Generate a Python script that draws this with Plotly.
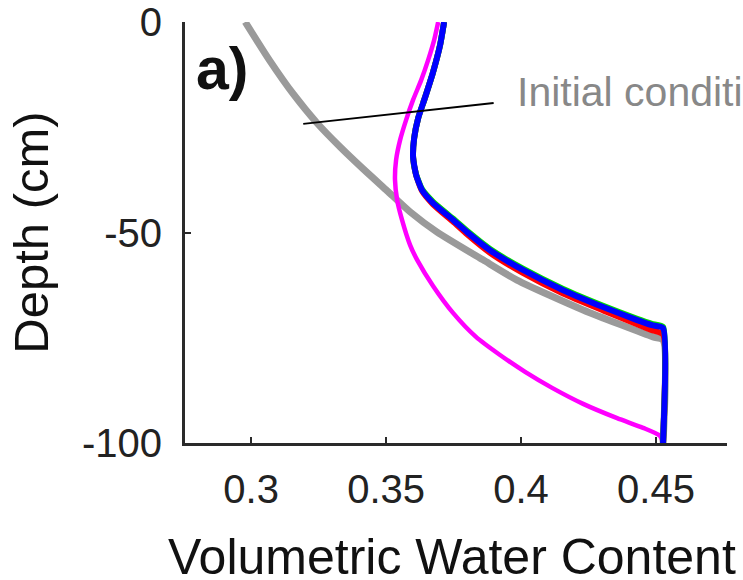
import plotly.graph_objects as go

# ---- data ----
init_x = [0.2978, 0.3067, 0.3156, 0.3244, 0.3330, 0.3415, 0.3504, 0.3589, 0.3689, 0.3859, 0.3985, 0.4230, 0.4489, 0.4526, 0.4526]
init_d = [0.0, -9.0, -17.1, -24.0, -29.7, -34.9, -40.1, -45.1, -49.9, -56.5, -61.3, -68.4, -74.8, -75.5, -100.0]

blue_x = [0.3715, 0.3700, 0.3674, 0.3644, 0.3619, 0.3604, 0.3600, 0.3611, 0.3633, 0.3674, 0.3748, 0.3800, 0.3885, 0.4007, 0.4156, 0.4304, 0.4430, 0.4485, 0.4526, 0.4526]
blue_d = [0.0, -5.5, -11.9, -18.0, -22.8, -27.6, -32.1, -36.3, -39.9, -43.0, -47.0, -49.9, -54.2, -58.9, -63.7, -67.7, -70.8, -72.0, -72.7, -100.0]

red_x = [0.3715, 0.3700, 0.3674, 0.3644, 0.3619, 0.3604, 0.3600, 0.3611, 0.3633, 0.3674, 0.3748, 0.3800, 0.3885, 0.4007, 0.4156, 0.4304, 0.4430, 0.4485, 0.4526, 0.4526]
red_d = [0.0, -5.5, -11.9, -18.0, -22.8, -27.6, -32.1, -36.3, -40.1, -43.3, -47.4, -50.4, -54.8, -59.6, -64.5, -68.5, -71.8, -73.2, -74.2, -100.0]

green_x = [0.3715, 0.3700, 0.3674, 0.3644, 0.3619, 0.3604, 0.3600, 0.3611, 0.3633, 0.3674, 0.3748, 0.3800, 0.3885, 0.4007, 0.4156, 0.4304, 0.4430, 0.4485, 0.4526, 0.4526]
green_d = [0.0, -5.5, -11.9, -18.0, -22.8, -27.6, -32.1, -36.2, -39.7, -42.7, -46.7, -49.6, -53.9, -58.6, -63.4, -67.4, -70.5, -71.7, -72.4, -100.0]

mag_x = [0.3693, 0.3678, 0.3656, 0.3630, 0.3600, 0.3574, 0.3552, 0.3537, 0.3533, 0.3541, 0.3559, 0.3589, 0.3615, 0.3674, 0.3748, 0.3833, 0.3922, 0.4015, 0.4115, 0.4230, 0.4356, 0.4452, 0.4515, 0.4526]
mag_d = [0.0, -4.3, -9.0, -13.8, -18.5, -23.3, -28.0, -32.8, -37.5, -42.3, -47.0, -53.0, -56.5, -62.7, -69.1, -74.8, -79.1, -83.1, -86.9, -90.7, -94.1, -96.4, -98.3, -100.0]

x_ticks = [0.3, 0.35, 0.4, 0.45]
x_ticktext = ["0.3", "0.35", "0.4", "0.45"]
y_ticks = [0, -50, -100]
y_ticktext = ["0", "-50", "-100"]
x_title = "Volumetric Water Content"
y_title = "Depth (cm)"

label_text = "Initial condition"
label_pos = (0.3978, -16.7)
leader_from = (0.3193, -24.2)
leader_to = (0.3904, -19.2)
panel_label = "<b>a)</b>"
panel_pos = (0.2790, -11.2)

fig = go.Figure()
fig.add_trace(go.Scatter(x=init_x, y=init_d, mode="lines", line=dict(color="#9a9a9a", width=7, shape="spline", smoothing=0.6), showlegend=False))
fig.add_trace(go.Scatter(x=mag_x, y=mag_d, mode="lines", line=dict(color="#ff00ff", width=4.5, shape="spline", smoothing=0.6), showlegend=False))
fig.add_trace(go.Scatter(x=red_x, y=red_d, mode="lines", line=dict(color="#ff0000", width=6, shape="spline", smoothing=0.5), showlegend=False))
fig.add_trace(go.Scatter(x=green_x, y=green_d, mode="lines", line=dict(color="#00dd00", width=6, shape="spline", smoothing=0.5), showlegend=False))
fig.add_trace(go.Scatter(x=blue_x, y=blue_d, mode="lines", line=dict(color="#0000ff", width=6, shape="spline", smoothing=0.5), showlegend=False))

font_main = "Liberation Sans, Arial, sans-serif"

fig.add_annotation(x=leader_from[0], y=leader_from[1], ax=leader_to[0], ay=leader_to[1],
                   xref="x", yref="y", axref="x", ayref="y", text="", showarrow=True,
                   arrowhead=0, arrowwidth=2, arrowcolor="#000000")
fig.add_annotation(x=label_pos[0], y=label_pos[1], xref="x", yref="y", text=label_text,
                   showarrow=False, xanchor="left", yanchor="middle",
                   font=dict(family=font_main, size=41, color="#888888"))
fig.add_annotation(x=panel_pos[0], y=panel_pos[1], xref="x", yref="y", text=panel_label,
                   showarrow=False, xanchor="left", yanchor="middle",
                   font=dict(family=font_main, size=59, color="#111111"))
# x-axis title placed below the tick labels
fig.add_annotation(x=0.4926, y=-0.27, xref="paper", yref="paper", text=x_title,
                   showarrow=False, xanchor="center", yanchor="middle",
                   font=dict(family=font_main, size=50, color="#111111"))

axis_common = dict(showgrid=False, zeroline=False, showline=True, linecolor="#2a2a2a", linewidth=3,
                   ticks="inside", ticklen=6, tickwidth=2, tickcolor="#2a2a2a", mirror=False,
                   automargin=False,
                   tickfont=dict(family=font_main, size=40, color="#222222"))

fig.update_xaxes(range=[0.2755, 0.4763], tickvals=x_ticks, ticktext=x_ticktext,
                 ticklabelstandoff=9, **axis_common)
fig.update_yaxes(range=[-100, 0], tickvals=y_ticks, ticktext=y_ticktext,
                 title=dict(text=y_title, font=dict(family=font_main, size=49, color="#111111"), standoff=18),
                 ticklabelstandoff=12, **axis_common)

fig.update_layout(width=743, height=580, margin=dict(l=185, r=16, t=22, b=137),
                  paper_bgcolor="white", plot_bgcolor="white", showlegend=False)

fig.write_html("out.html")
